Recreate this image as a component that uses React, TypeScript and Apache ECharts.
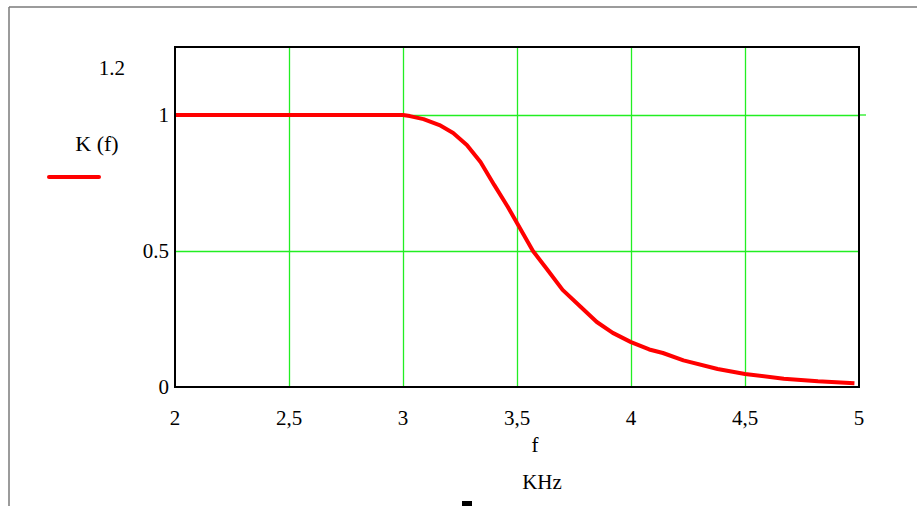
import React, { useEffect, useRef } from "react";
import * as echarts from "echarts";

const freqKHz = [2, 2.5, 3.0, 3.03, 3.09, 3.16, 3.22, 3.28, 3.34, 3.4, 3.46, 3.5, 3.57, 3.63, 3.7, 3.78, 3.85, 3.92, 4.0, 4.08, 4.14, 4.23, 4.38, 4.5, 4.67, 4.82, 4.98];
const gainK = [1, 1, 1, 0.996, 0.985, 0.963, 0.934, 0.89, 0.827, 0.743, 0.662, 0.603, 0.5, 0.435, 0.357, 0.294, 0.239, 0.199, 0.165, 0.138, 0.125, 0.098, 0.066, 0.048, 0.03, 0.021, 0.014];
const yTickLabels = ["0", "0.5", "1"];
const yTopLabel = "1.2";
const seriesName = "K (f)";
const xName = "f";
const unitName = "KHz";

const FONT = "'Liberation Serif', 'DejaVu Serif', serif";

export default function App() {
  const ref = useRef<HTMLDivElement>(null);
  useEffect(() => {
    if (!ref.current) return;
    const chart = echarts.init(ref.current, null, { renderer: "svg" });
    const gridGreen = "#22ee22";
    chart.setOption({
      animation: false,
      backgroundColor: "#ffffff",
      textStyle: { fontFamily: FONT },
      grid: {
        left: 175,
        top: 47,
        width: 684,
        height: 340,
        show: false,
        containLabel: false,
      },
      xAxis: {
        type: "value",
        min: 2,
        max: 5,
        interval: 0.5,
        axisLine: { show: false },
        axisTick: { show: false },
        splitLine: { show: true, showMinLine: false, showMaxLine: false, lineStyle: { color: gridGreen, width: 1.3, opacity: 1 } },
        axisLabel: {
          color: "#000",
          fontFamily: FONT,
          fontSize: 21,
          margin: 20,
          formatter: (v: number) => String(v).replace(".", ","),
        },
      },
      yAxis: {
        type: "value",
        min: 0,
        max: 1.25,
        interval: 0.5,
        axisLine: { show: false },
        axisTick: { show: false },
        splitLine: { show: true, showMinLine: false, showMaxLine: false, lineStyle: { color: gridGreen, width: 1.3, opacity: 1 } },
        axisLabel: {
          color: "#000",
          fontFamily: FONT,
          fontSize: 21,
          margin: 6,
          formatter: (v: number) => {
            const s = String(v);
            return yTickLabels.includes(s) ? s : "";
          },
        },
      },
      series: [
        {
          name: seriesName,
          type: "line",
          data: freqKHz.map((f, i) => [f, gainK[i]]),
          showSymbol: false,
          smooth: false,
          lineStyle: { color: "#ff0000", width: 4 },
          itemStyle: { color: "#ff0000" },
          z: 5,
        },
      ],
      graphic: [
        { type: "line", shape: { x1: 9, y1: 7, x2: 917, y2: 7 }, style: { stroke: "#7a7a7a", lineWidth: 1.5 } },
        { type: "line", shape: { x1: 9, y1: 7, x2: 9, y2: 506 }, style: { stroke: "#7a7a7a", lineWidth: 1.5 } },
        { type: "line", shape: { x1: 859, y1: 115, x2: 866, y2: 115 }, style: { stroke: gridGreen, lineWidth: 1.3 } },
        { type: "rect", z: 10, shape: { x: 175, y: 47, width: 684, height: 340 }, style: { fill: "none", stroke: "#000", lineWidth: 2 } },
        { type: "text", x: 125, y: 68, style: { text: yTopLabel, fontSize: 21, fontFamily: FONT, fill: "#000", textAlign: "right", textVerticalAlign: "middle" } },
        { type: "text", x: 97, y: 143, style: { text: seriesName, fontSize: 22, fontFamily: FONT, fill: "#000", textAlign: "center", textVerticalAlign: "middle" } },
        { type: "line", shape: { x1: 49, y1: 177, x2: 99, y2: 177 }, style: { stroke: "#ff0000", lineWidth: 4, lineCap: "round" } },
        { type: "text", x: 535, y: 445, style: { text: xName, fontSize: 21, fontFamily: FONT, fill: "#000", textAlign: "center", textVerticalAlign: "middle" } },
        { type: "text", x: 542, y: 482, style: { text: unitName, fontSize: 21, fontFamily: FONT, fill: "#000", textAlign: "center", textVerticalAlign: "middle" } },
        { type: "rect", shape: { x: 462, y: 501, width: 10, height: 6 }, style: { fill: "#000" } },
      ],
    });
    return () => chart.dispose();
  }, []);
  return (
    <div
      ref={ref}
      style={{ position: "fixed", left: 0, top: 0, width: 917, height: 506 }}
    />
  );
}
